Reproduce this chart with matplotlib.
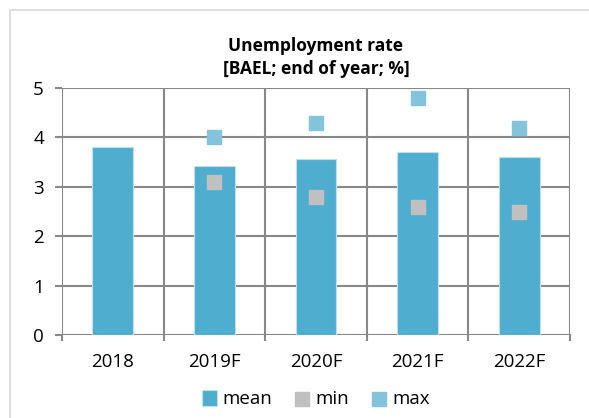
import matplotlib.pyplot as plt
import numpy as np
from matplotlib.patches import Rectangle

years = ['2018', '2019F', '2020F', '2021F', '2022F']
mean = [3.8, 3.42, 3.56, 3.7, 3.6]
vmin = [np.nan, 3.1, 2.8, 2.6, 2.5]
vmax = [np.nan, 4.0, 4.3, 4.8, 4.2]

plt.rcParams['font.family'] = ['Open Sans', 'DejaVu Sans']

fig = plt.figure(figsize=(5.89, 4.18), dpi=100)
ax = fig.add_axes([62/589, 1-335/418, (570-62)/589, (335-88)/418])

x = np.arange(len(years))
h1 = ax.bar(x, mean, width=0.4, color='#4FADCF', edgecolor='#BFE0EE', linewidth=0.8,
            label='mean', zorder=3)
h2 = ax.scatter(x, vmin, marker='s', s=105, color='#C0C0C0', label='min', zorder=4)
h3 = ax.scatter(x, vmax, marker='s', s=105, color='#83C4DC', label='max', zorder=4)

ax.set_xlim(-0.5, len(years) - 0.5)
ax.set_ylim(0, 5)
ax.set_yticks(range(6))
ax.tick_params(axis='y', length=5, color='#888888', width=1.5, labelsize=13.5, pad=8)
ax.set_xticks(x)
ax.set_xticklabels(years)
ax.tick_params(axis='x', length=0, labelsize=13.5, pad=13)

# boundary gridlines between categories
for b in np.arange(-0.5, len(years), 1.0):
    ax.axvline(b, color='#888888', lw=1.5, zorder=1)
    ax.plot([b, b], [0, -0.1], color='#888888', lw=1.5, clip_on=False)
ax.yaxis.grid(True, color='#888888', lw=1.5, zorder=1)
ax.set_axisbelow(True)
for s in ax.spines.values():
    s.set_visible(False)

ax.set_title('Unemployment rate\n[BAEL; end of year; %]', fontsize=12.5,
             fontweight='bold', pad=10, linespacing=1.4)

ax.legend([h1, h2, h3], ['mean', 'min', 'max'], loc='upper center',
          bbox_to_anchor=(0.5, -0.155), ncol=3, frameon=False,
          fontsize=13.5, handlelength=0.8, handleheight=0.9, handletextpad=0.3,
          columnspacing=1.2)

# outer chart border
fig.patches.append(Rectangle((10/589, -0.1), 1.2, 1 - 10/418 + 0.1, transform=fig.transFigure,
                             fill=False, edgecolor='#D9D9D9', lw=1.2))

fig.savefig('out.png', dpi=100)
